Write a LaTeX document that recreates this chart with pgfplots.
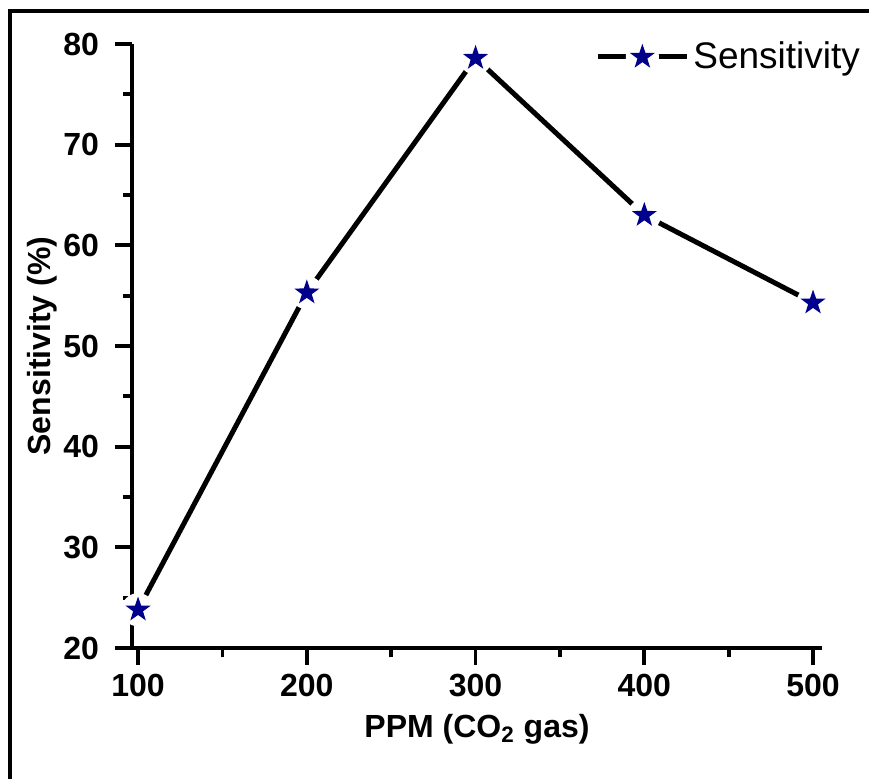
\documentclass[border=0pt]{standalone}
\usepackage{fontspec}
\setmainfont{Liberation Sans}
\usepackage{pgfplots}
\pgfplotsset{compat=1.18}
\definecolor{starblue}{RGB}{0,0,140}
\pgfdeclareplotmark{wstar}{%
  \pgfpathcircle{\pgfpointorigin}{8.3pt}%
  \pgfsetfillcolor{white}%
  \pgfusepathqfill
  \pgfpathmoveto{\pgfpointpolar{90}{6.6pt}}%
  \pgfpathlineto{\pgfpointpolar{126}{2.6pt}}%
  \pgfpathlineto{\pgfpointpolar{162}{6.6pt}}%
  \pgfpathlineto{\pgfpointpolar{198}{2.6pt}}%
  \pgfpathlineto{\pgfpointpolar{234}{6.6pt}}%
  \pgfpathlineto{\pgfpointpolar{270}{2.6pt}}%
  \pgfpathlineto{\pgfpointpolar{306}{6.6pt}}%
  \pgfpathlineto{\pgfpointpolar{342}{2.6pt}}%
  \pgfpathlineto{\pgfpointpolar{18}{6.6pt}}%
  \pgfpathlineto{\pgfpointpolar{54}{2.6pt}}%
  \pgfpathclose
  \pgfsetfillcolor{starblue}%
  \pgfusepathqfill
}
\begin{document}
\begin{tikzpicture}
\begin{axis}[
  at={(0,0)}, anchor=south west,
  scale only axis, width=345pt, height=302pt,
  xmin=96.4, xmax=505.3, ymin=20, ymax=80,
  axis on top,
  axis x line*=bottom, axis y line*=left,
  axis line style={-, line width=1.9pt},
  xtick={100,200,300,400,500},
  ytick={20,30,40,50,60,70,80},
  minor x tick num=1, minor y tick num=1,
  tick align=outside,
  major tick length=8.5pt, minor tick length=4.5pt,
  every tick/.style={black, line width=1.9pt},
  /pgf/number format/assume math mode=true,
  tick label style={font=\fontsize{16}{19}\selectfont\bfseries},
  yticklabel style={xshift=-4.5pt},
  xticklabel style={yshift=-1pt},
  label style={font=\fontsize{16}{19}\selectfont\bfseries},
  xlabel={PPM (CO\textsubscript{2} gas)},
  ylabel={Sensitivity (\%)},
  xlabel style={yshift=-2pt},
  ylabel style={yshift=-4pt},
  legend style={draw=none, fill=none, at={(rel axis cs:0.671,0.9785)}, anchor=west,
    inner sep=0pt, font=\fontsize{18.5}{21}\selectfont},
  legend image code/.code={\draw[mark repeat=2,mark phase=2,#1] plot coordinates {(0pt,0pt) (22.25pt,0pt) (44.5pt,0pt)};},
  legend cell align=left,
  clip=false,
]
\addplot[black, line width=2.5pt, mark=wstar] coordinates {
  (100,23.8) (200,55.3) (300,78.6) (400,63.0) (500,54.3)
};
\addlegendentry{Sensitivity}
\end{axis}
\draw[line width=2pt] (-61pt,-70pt) -- (-61pt,318.25pt) -- (375pt,318.25pt);
\pgfresetboundingbox
\useasboundingbox (-66pt,-65pt) rectangle (368.5pt,324pt);
\end{tikzpicture}
\end{document}
